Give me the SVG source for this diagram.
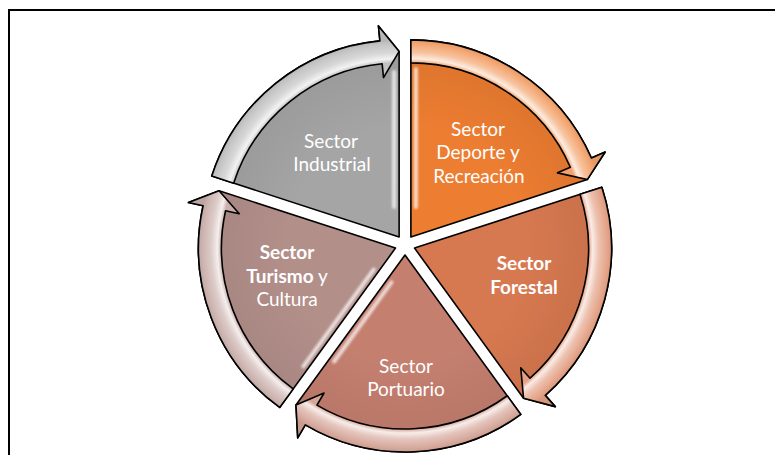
<svg xmlns="http://www.w3.org/2000/svg" width="775" height="455" viewBox="0 0 775 455">
  <style>
    .outline { stroke: #000; stroke-width: 1.6; stroke-linejoin: round; }
    .lbl { font-family: Lato, "Open Sans", "Liberation Sans", sans-serif; font-size: 19px; fill: #fff; text-anchor: middle; }
    .b { font-weight: bold; }
    .hl { stroke: #fff; stroke-width: 4; stroke-linecap: round; fill: none; opacity: 0.7; filter: url(#soft); }
  </style>
  <defs>
    <filter id="soft" filterUnits="userSpaceOnUse" x="-300" y="-300" width="600" height="600">
      <feGaussianBlur stdDeviation="1"/>
    </filter>
    <path id="wedge" d="M0,0 L0,-197 A197,197 0 0 1 180.52,-78.87 L194.27,-84.87 L176.42,-57.32 Z"/>
    <path id="band" d="M0,-174 L0,-197 A197,197 0 0 1 180.52,-78.87 L194.27,-84.87 L176.42,-57.32 L146.62,-64.06 L159.45,-69.66 A174,174 0 0 0 0,-174 Z"/>
    <radialGradient id="shine" gradientUnits="userSpaceOnUse" cx="0" cy="0" r="212">
      <stop offset="0.821" stop-color="#fff" stop-opacity="0"/>
      <stop offset="0.84" stop-color="#fff" stop-opacity="0.8"/>
      <stop offset="0.87" stop-color="#fff" stop-opacity="0.35"/>
      <stop offset="0.91" stop-color="#fff" stop-opacity="0.05"/>
      <stop offset="0.929" stop-color="#000" stop-opacity="0.06"/>
      <stop offset="1" stop-color="#000" stop-opacity="0.06"/>
    </radialGradient>
    <radialGradient id="wshade" gradientUnits="userSpaceOnUse" cx="0" cy="0" r="180">
      <stop offset="0.6" stop-color="#000" stop-opacity="0"/>
      <stop offset="0.97" stop-color="#000" stop-opacity="0.06"/>
    </radialGradient>
  </defs>

  <rect x="9" y="10" width="800" height="500" fill="none" stroke="#000" stroke-width="2"/>

  <g id="node-deporte">
    <g transform="translate(405 245) rotate(0) translate(5.88 -8.09)">
      <use href="#wedge" class="outline" fill="#ED7D31"/>
      <use href="#wedge" fill="url(#wshade)"/>
      <line class="hl" x1="5" y1="-30" x2="5" y2="-168"/>
    </g>
    <text class="lbl" x="478" y="136">Sector</text>
    <text class="lbl" x="478" y="159">Deporte y</text>
    <text class="lbl" x="479" y="183">Recreación</text>
  </g>

  <g id="node-forestal">
    <g transform="translate(405 245) rotate(72) translate(5.88 -8.09)">
      <use href="#wedge" class="outline" fill="#D77950"/>
      <use href="#wedge" fill="url(#wshade)"/>
    </g>
    <text class="lbl b" x="524" y="270">Sector</text>
    <text class="lbl b" x="524" y="294">Forestal</text>
  </g>

  <g id="node-portuario">
    <g transform="translate(405 245) rotate(144) translate(5.88 -8.09)">
      <use href="#wedge" class="outline" fill="#C47F6F"/>
      <use href="#wedge" fill="url(#wshade)"/>
      <line class="hl" x1="26.98" y1="-14.03" x2="120" y2="-44.5"/>
    </g>
    <text class="lbl" x="406" y="373">Sector</text>
    <text class="lbl" x="406" y="396">Portuario</text>
  </g>

  <g id="node-turismo">
    <g transform="translate(405 245) rotate(216) translate(5.88 -8.09)">
      <use href="#wedge" class="outline" fill="#B38F8A"/>
      <use href="#wedge" fill="url(#wshade)"/>
      <line class="hl" x1="5" y1="-30" x2="5" y2="-150"/>
    </g>
    <text class="lbl b" x="287" y="259">Sector</text>
    <text class="lbl" x="287" y="283"><tspan class="b">Turismo</tspan> y</text>
    <text class="lbl" x="287" y="306">Cultura</text>
  </g>

  <g id="node-industrial">
    <g transform="translate(405 245) rotate(288) translate(5.88 -8.09)">
      <use href="#wedge" class="outline" fill="#A5A5A5"/>
      <use href="#wedge" fill="url(#wshade)"/>
      <line class="hl" x1="26.98" y1="-14.03" x2="155.37" y2="-55.75"/>
    </g>
    <text class="lbl" x="331" y="148">Sector</text>
    <text class="lbl" x="332" y="171">Industrial</text>
  </g>

  <g id="connectors">
    <g transform="translate(405 245) rotate(0) translate(5.88 -8.09)">
      <use href="#band" fill="#F3A26B"/>
      <use href="#band" class="outline" fill="url(#shine)"/>
    </g>
    <g transform="translate(405 245) rotate(72) translate(5.88 -8.09)">
      <use href="#band" fill="#E3A084"/>
      <use href="#band" class="outline" fill="url(#shine)"/>
    </g>
    <g transform="translate(405 245) rotate(144) translate(5.88 -8.09)">
      <use href="#band" fill="#D5A598"/>
      <use href="#band" class="outline" fill="url(#shine)"/>
    </g>
    <g transform="translate(405 245) rotate(216) translate(5.88 -8.09)">
      <use href="#band" fill="#CAB0AC"/>
      <use href="#band" class="outline" fill="url(#shine)"/>
    </g>
    <g transform="translate(405 245) rotate(288) translate(5.88 -8.09)">
      <use href="#band" fill="#C2C2C2"/>
      <use href="#band" class="outline" fill="url(#shine)"/>
    </g>
  </g>
</svg>
